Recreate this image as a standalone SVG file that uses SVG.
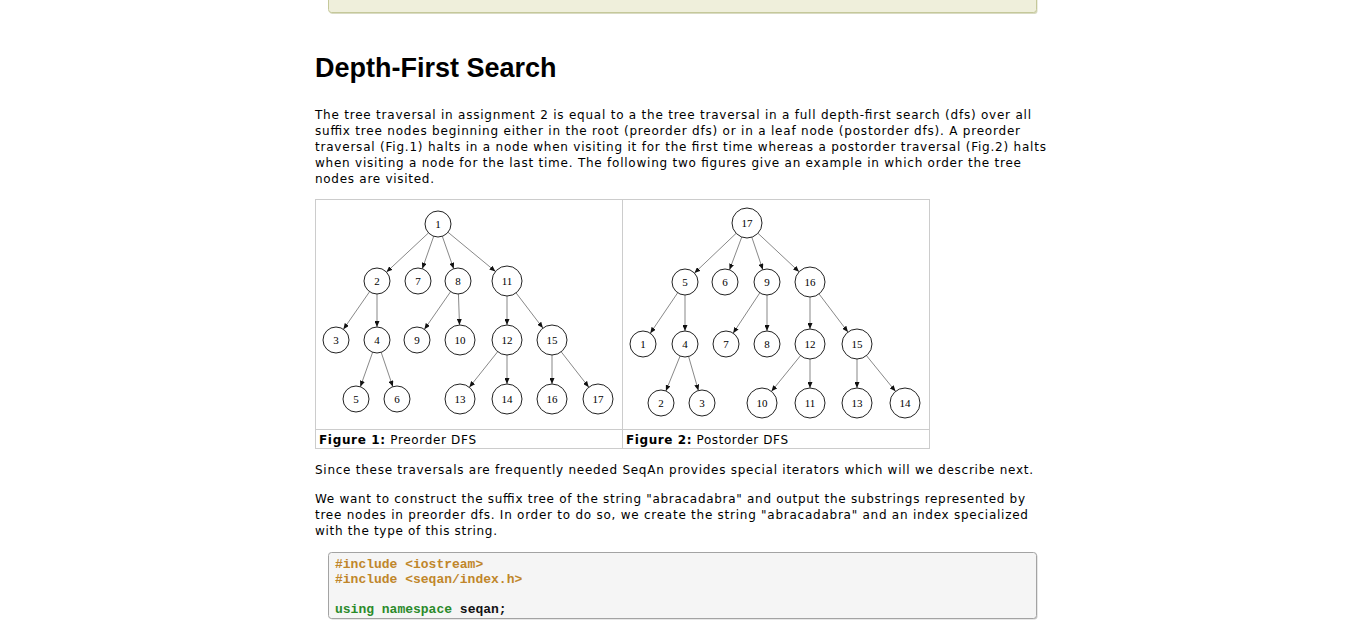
<svg xmlns="http://www.w3.org/2000/svg" width="1349" height="626" viewBox="0 0 1349 626">
<style>
  .body{font-family:"DejaVu Sans","Liberation Sans",sans-serif;font-size:12px;fill:#000}
  .title{font-family:"Liberation Sans",Arial,sans-serif;font-size:27px;font-weight:bold;fill:#000}
  .cap{font-family:"DejaVu Sans","Liberation Sans",sans-serif;font-size:12px;fill:#000}
  .capb{font-weight:bold}
  .nd circle{fill:#fff;stroke:#222;stroke-width:1}
  .nd text{font-family:"Liberation Serif","Times New Roman",serif;font-size:11px;fill:#000;text-anchor:middle}
  .edges line{stroke:#555;stroke-width:0.7;marker-end:url(#ah)}
  .frame{fill:none;stroke:#cccccc;stroke-width:1}
  .code{font-family:"Liberation Mono","Courier New",monospace;font-size:13px;font-weight:bold}
  .pp{fill:#c0862a}
  .kw{fill:#2a8a2a}
  .pl{fill:#111}
</style>
<defs>
  <marker id="ah" markerUnits="userSpaceOnUse" markerWidth="6" markerHeight="5" refX="6" refY="2.5" orient="auto">
    <path d="M0,0 L6,2.5 L0,5 z" fill="#111"/>
  </marker>
</defs>
<rect width="1349" height="626" fill="#fff"/>

<g id="top-box">
  <rect x="329.5" y="-9" width="708" height="23" rx="3" fill="#d9dbc3"/>
  <rect x="328.5" y="-10" width="708" height="22.5" rx="3" fill="#efefdb" stroke="#c5c89a" stroke-width="1"/>
</g>

<g id="heading">
  <text class="title" x="315" y="77">Depth-First Search</text>
</g>

<g id="para1">
  <text class="body" x="315" y="119" textLength="716" lengthAdjust="spacing">The tree traversal in assignment 2 is equal to a the tree traversal in a full depth-first search (dfs) over all</text>
  <text class="body" x="315" y="135" textLength="705" lengthAdjust="spacing">suffix tree nodes beginning either in the root (preorder dfs) or in a leaf node (postorder dfs). A preorder</text>
  <text class="body" x="315" y="151" textLength="731" lengthAdjust="spacing">traversal (Fig.1) halts in a node when visiting it for the first time whereas a postorder traversal (Fig.2) halts</text>
  <text class="body" x="315" y="167" textLength="706" lengthAdjust="spacing">when visiting a node for the last time. The following two figures give an example in which order the tree</text>
  <text class="body" x="315" y="183" textLength="119" lengthAdjust="spacing">nodes are visited.</text>
</g>

<g id="figure-frame">
  <rect class="frame" x="315.5" y="199.5" width="614" height="249"/>
  <line class="frame" x1="622.5" y1="199.5" x2="622.5" y2="448.5"/>
  <line class="frame" x1="315.5" y1="429.5" x2="929.5" y2="429.5"/>
</g>

<g id="connectors" class="edges">
  <!-- Figure 1 -->
  <line x1="428.5" y1="232.88" x2="386.5" y2="272.12"/>
  <line x1="433.7" y1="236.27" x2="422.3" y2="268.73"/>
  <line x1="442.3" y1="236.27" x2="453.7" y2="268.73"/>
  <line x1="448.02" y1="232.28" x2="495.44" y2="271.45"/>
  <line x1="369.58" y1="291.68" x2="343.42" y2="329.32"/>
  <line x1="377" y1="294" x2="377" y2="327"/>
  <line x1="372.64" y1="352.25" x2="360.36" y2="386.75"/>
  <line x1="381.17" y1="352.31" x2="392.83" y2="386.69"/>
  <line x1="450.58" y1="291.68" x2="424.42" y2="329.32"/>
  <line x1="458.44" y1="293.99" x2="459.49" y2="325.01"/>
  <line x1="507" y1="296" x2="507" y2="325"/>
  <line x1="516.1" y1="292.93" x2="542.9" y2="328.07"/>
  <line x1="497.65" y1="351.73" x2="469.35" y2="387.27"/>
  <line x1="507" y1="355" x2="507" y2="384"/>
  <line x1="552" y1="355" x2="552" y2="384"/>
  <line x1="561.22" y1="351.83" x2="588.78" y2="387.17"/>
  <!-- Figure 2 -->
  <line x1="736.13" y1="233.34" x2="694.42" y2="273.04"/>
  <line x1="741.76" y1="237.05" x2="729.54" y2="269.82"/>
  <line x1="751.82" y1="237.21" x2="762.83" y2="269.69"/>
  <line x1="757.95" y1="233.25" x2="799.05" y2="271.75"/>
  <line x1="677.71" y1="292.76" x2="650.29" y2="333.24"/>
  <line x1="685" y1="295" x2="685" y2="331"/>
  <line x1="680.1" y1="356.04" x2="665.9" y2="390.96"/>
  <line x1="688.6" y1="356.49" x2="698.4" y2="390.51"/>
  <line x1="759.83" y1="292.84" x2="733.17" y2="333.16"/>
  <line x1="767" y1="295" x2="767" y2="331"/>
  <line x1="810" y1="297" x2="810" y2="329"/>
  <line x1="819.06" y1="293.95" x2="847.94" y2="332.05"/>
  <line x1="800.53" y1="355.64" x2="771.47" y2="391.36"/>
  <line x1="810" y1="359" x2="810" y2="388"/>
  <line x1="857" y1="359" x2="857" y2="388"/>
  <line x1="866.47" y1="355.64" x2="895.53" y2="391.36"/>
</g>

<!-- Figure 1 nodes -->
<g id="f1-n1" class="nd"><circle cx="438" cy="224" r="13"/><text x="438" y="227.8">1</text></g>
<g id="f1-n2" class="nd"><circle cx="377" cy="281" r="13"/><text x="377" y="284.8">2</text></g>
<g id="f1-n7" class="nd"><circle cx="418" cy="281" r="13"/><text x="418" y="284.8">7</text></g>
<g id="f1-n8" class="nd"><circle cx="458" cy="281" r="13"/><text x="458" y="284.8">8</text></g>
<g id="f1-n11" class="nd"><circle cx="507" cy="281" r="15"/><text x="507" y="284.8">11</text></g>
<g id="f1-n3" class="nd"><circle cx="336" cy="340" r="13"/><text x="336" y="343.8">3</text></g>
<g id="f1-n4" class="nd"><circle cx="377" cy="340" r="13"/><text x="377" y="343.8">4</text></g>
<g id="f1-n9" class="nd"><circle cx="417" cy="340" r="13"/><text x="417" y="343.8">9</text></g>
<g id="f1-n10" class="nd"><circle cx="460" cy="340" r="15"/><text x="460" y="343.8">10</text></g>
<g id="f1-n12" class="nd"><circle cx="507" cy="340" r="15"/><text x="507" y="343.8">12</text></g>
<g id="f1-n15" class="nd"><circle cx="552" cy="340" r="15"/><text x="552" y="343.8">15</text></g>
<g id="f1-n5" class="nd"><circle cx="356" cy="399" r="13"/><text x="356" y="402.8">5</text></g>
<g id="f1-n6" class="nd"><circle cx="397" cy="399" r="13"/><text x="397" y="402.8">6</text></g>
<g id="f1-n13" class="nd"><circle cx="460" cy="399" r="15"/><text x="460" y="402.8">13</text></g>
<g id="f1-n14" class="nd"><circle cx="507" cy="399" r="15"/><text x="507" y="402.8">14</text></g>
<g id="f1-n16" class="nd"><circle cx="552" cy="399" r="15"/><text x="552" y="402.8">16</text></g>
<g id="f1-n17" class="nd"><circle cx="598" cy="399" r="15"/><text x="598" y="402.8">17</text></g>

<!-- Figure 2 nodes -->
<g id="f2-n17" class="nd"><circle cx="747" cy="223" r="15"/><text x="747" y="226.8">17</text></g>
<g id="f2-n5" class="nd"><circle cx="685" cy="282" r="13"/><text x="685" y="285.8">5</text></g>
<g id="f2-n6" class="nd"><circle cx="725" cy="282" r="13"/><text x="725" y="285.8">6</text></g>
<g id="f2-n9" class="nd"><circle cx="767" cy="282" r="13"/><text x="767" y="285.8">9</text></g>
<g id="f2-n16" class="nd"><circle cx="810" cy="282" r="15"/><text x="810" y="285.8">16</text></g>
<g id="f2-n1" class="nd"><circle cx="643" cy="344" r="13"/><text x="643" y="347.8">1</text></g>
<g id="f2-n4" class="nd"><circle cx="685" cy="344" r="13"/><text x="685" y="347.8">4</text></g>
<g id="f2-n7" class="nd"><circle cx="726" cy="344" r="13"/><text x="726" y="347.8">7</text></g>
<g id="f2-n8" class="nd"><circle cx="767" cy="344" r="13"/><text x="767" y="347.8">8</text></g>
<g id="f2-n12" class="nd"><circle cx="810" cy="344" r="15"/><text x="810" y="347.8">12</text></g>
<g id="f2-n15" class="nd"><circle cx="857" cy="344" r="15"/><text x="857" y="347.8">15</text></g>
<g id="f2-n2" class="nd"><circle cx="661" cy="403" r="13"/><text x="661" y="406.8">2</text></g>
<g id="f2-n3" class="nd"><circle cx="702" cy="403" r="13"/><text x="702" y="406.8">3</text></g>
<g id="f2-n10" class="nd"><circle cx="762" cy="403" r="15"/><text x="762" y="406.8">10</text></g>
<g id="f2-n11" class="nd"><circle cx="810" cy="403" r="15"/><text x="810" y="406.8">11</text></g>
<g id="f2-n13" class="nd"><circle cx="857" cy="403" r="15"/><text x="857" y="406.8">13</text></g>
<g id="f2-n14" class="nd"><circle cx="905" cy="403" r="15"/><text x="905" y="406.8">14</text></g>

<g id="captions">
  <text class="cap" x="319" y="444" textLength="157" lengthAdjust="spacing"><tspan class="capb">Figure 1:</tspan> Preorder DFS</text>
  <text class="cap" x="626" y="444" textLength="162" lengthAdjust="spacing"><tspan class="capb">Figure 2:</tspan> Postorder DFS</text>
</g>

<g id="para2">
  <text class="body" x="315" y="474" textLength="718" lengthAdjust="spacing">Since these traversals are frequently needed SeqAn provides special iterators which will we describe next.</text>
  <text class="body" x="315" y="503" textLength="710" lengthAdjust="spacing">We want to construct the suffix tree of the string "abracadabra" and output the substrings represented by</text>
  <text class="body" x="315" y="519" textLength="713" lengthAdjust="spacing">tree nodes in preorder dfs. In order to do so, we create the string "abracadabra" and an index specialized</text>
  <text class="body" x="315" y="535" textLength="182" lengthAdjust="spacing">with the type of this string.</text>
</g>

<g id="code-block">
  <rect x="329.5" y="553.5" width="708" height="66" rx="3" fill="#d0d0d0"/>
  <rect x="328.5" y="552.5" width="708" height="66" rx="3" fill="#f5f5f5" stroke="#a3a3a3" stroke-width="1"/>
  <text class="code pp" x="335" y="568">#include &lt;iostream&gt;</text>
  <text class="code pp" x="335" y="583">#include &lt;seqan/index.h&gt;</text>
  <text class="code" x="335" y="613"><tspan class="kw">using namespace</tspan><tspan class="pl"> seqan;</tspan></text>
</g>
</svg>
